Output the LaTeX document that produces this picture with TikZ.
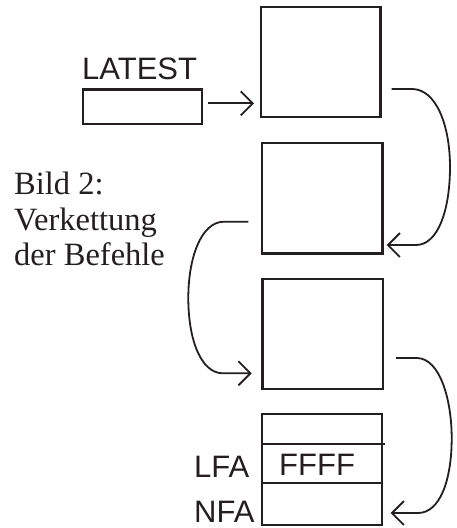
\documentclass[tikz,border=0pt]{standalone}
\usepackage{fontspec}
\setmainfont{Liberation Serif}
\newfontfamily\arialfont{Liberation Sans}
\usetikzlibrary{arrows.meta,calc}
\definecolor{ink}{RGB}{35,31,32}
\begin{document}
\begin{tikzpicture}[x=1pt,y=-1pt,
  cell/.style={draw=ink,line width=2.4pt,rectangle,inner sep=0pt},
  link/.style={draw=ink,line width=1.8pt,-{Straight Barb[length=12pt,width=24pt]}},
  sanslbl/.style={inner sep=0pt,anchor=base west,text=ink,font=\arialfont\fontsize{31}{36}\selectfont},
  seriflbl/.style={inner sep=0pt,anchor=north west,align=left,text=ink,font=\fontsize{32.5}{35.5}\selectfont}]
\useasboundingbox (0,0) rectangle (456,528);
% boxes
\node[cell,minimum width=119pt,minimum height=34.7pt] (latest) at (142.2,106.65) {};
\node[cell,minimum width=119.5pt,minimum height=110pt] (b1) at (320.75,62) {};
\node[cell,minimum width=120.5pt,minimum height=110.5pt] (b2) at (322.25,198.25) {};
\node[cell,minimum width=120.5pt,minimum height=110pt] (b3) at (322.75,334) {};
\node[cell,minimum width=120pt,minimum height=111pt] (b4) at (322,469.5) {};
\coordinate (l1a) at (262,444);
\coordinate (l1b) at (385,444);
\coordinate (l2a) at (262,483);
\coordinate (l2b) at (382,483);
\draw[ink,line width=2.2pt] (l1a) -- (l1b);
\draw[ink,line width=2.2pt] (l2a) -- (l2b);
% labels
\node[sanslbl] (latesttxt) at (82,79.3) {LATEST};
\node[sanslbl] (ffff) at (279,475.5) {FFFF};
\node[sanslbl] (lfa) at (194,477.3) {LFA};
\node[sanslbl] (nfa) at (194,522.5) {NFA};
\node[seriflbl] (caption) at (14,172) {Bild 2:\\Verkettung\\der Befehle};
% connector end points
\coordinate (s0) at (208.3,103.3);
\coordinate (t0) at (254,103.3);
\coordinate (s1) at (391.7,89);
\coordinate (t1) at (386.7,245);
\coordinate (s2) at (248.3,221.7);
\coordinate (t2) at (251.7,373.3);
\coordinate (s3) at (396,358);
\coordinate (t3) at (390.7,513);
% connectors
\draw[link] (s0) -- (t0);
\draw[link] (s1) -- (412,89) .. controls (436,89) and (450,125) .. (450,167)
  .. controls (450,210) and (438,245) .. (416,245) -- (t1);
\draw[link] (s2) -- (224,221.7) .. controls (201,221.7) and (188.3,258) .. (188.3,298)
  .. controls (188.3,340) and (201,373.3) .. (223,373.3) -- (t2);
\draw[link] (s3) -- (416.7,358) .. controls (440,358) and (451.7,400) .. (451.7,438)
  .. controls (451.7,480) and (440,513) .. (418,513) -- (t3);
\end{tikzpicture}
\end{document}
